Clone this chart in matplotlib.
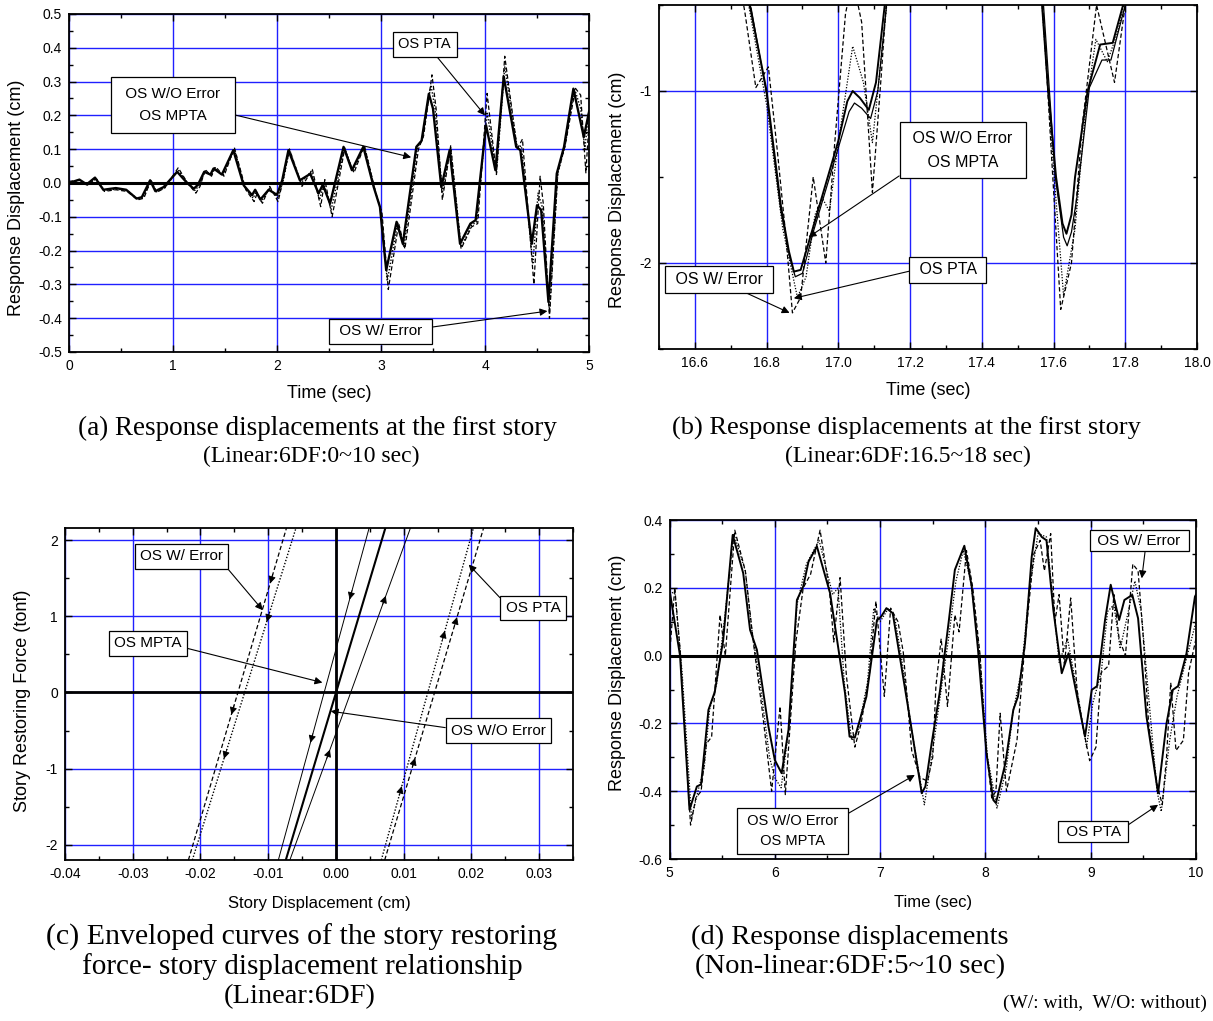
import numpy as np
import matplotlib
matplotlib.use('Agg')
import matplotlib.pyplot as plt
from matplotlib.ticker import MultipleLocator, FormatStrFormatter

plt.rcParams['font.family'] = 'Liberation Sans'
plt.rcParams['axes.unicode_minus'] = False

# ---- (a) linear 6DF, first story, 0-5 sec ----
a_t_wo = [0, 0.1, 0.17, 0.25, 0.33, 0.45, 0.55, 0.65, 0.70, 0.78, 0.83, 0.91, 1.04, 1.13, 1.20, 1.24,
          1.30, 1.36, 1.39, 1.47, 1.58, 1.68, 1.76, 1.79, 1.84, 1.92, 2.0, 2.05, 2.11, 2.22, 2.32, 2.40,
          2.44, 2.51, 2.64, 2.72, 2.83, 2.93, 2.99, 3.05, 3.15, 3.21, 3.34, 3.39, 3.46, 3.50, 3.58, 3.66,
          3.76, 3.86, 3.91, 4.01, 4.10, 4.18, 4.30, 4.34, 4.45, 4.50, 4.54, 4.61, 4.69, 4.76, 4.85, 4.95, 5.0]
a_wo = [0, 0.01, -0.004, 0.016, -0.02, -0.015, -0.02, -0.046, -0.042, 0.008, -0.024, -0.012, 0.033, 0.002,
        -0.017, -0.005, 0.033, 0.025, 0.043, 0.025, 0.097, -0.007, -0.036, -0.02, -0.049, -0.02, -0.035,
        0.008, 0.097, 0.008, 0.027, -0.031, -0.005, -0.061, 0.107, 0.038, 0.107, -0.012, -0.071, -0.258,
        -0.115, -0.18, 0.107, 0.125, 0.264, 0.22, -0.012, 0.097, -0.18, -0.12, -0.11, 0.171, 0.038, 0.315,
        0.107, 0.097, -0.18, -0.066, -0.08, -0.352, 0.028, 0.107, 0.279, 0.136, 0.21]
a_t_w = [0, 0.1, 0.17, 0.26, 0.34, 0.45, 0.56, 0.66, 0.72, 0.79, 0.84, 0.92, 1.05, 1.14, 1.22, 1.26,
         1.31, 1.37, 1.41, 1.49, 1.59, 1.70, 1.78, 1.81, 1.86, 1.93, 2.01, 2.06, 2.12, 2.24, 2.34, 2.42,
         2.46, 2.53, 2.65, 2.74, 2.84, 2.95, 3.01, 3.07, 3.17, 3.23, 3.36, 3.41, 3.49, 3.53, 3.59, 3.67,
         3.77, 3.87, 3.93, 4.02, 4.11, 4.19, 4.31, 4.36, 4.47, 4.53, 4.56, 4.62, 4.70, 4.77, 4.87, 4.92, 4.97, 5.0]
a_w = [0.005, 0.008, -0.005, 0.012, -0.025, -0.02, -0.025, -0.05, -0.045, 0.01, -0.028, -0.015, 0.045, 0.0,
       -0.03, -0.01, 0.04, 0.02, 0.048, 0.02, 0.105, -0.02, -0.055, -0.03, -0.06, -0.01, -0.055, 0.01, 0.10,
       -0.01, 0.04, -0.07, 0.01, -0.10, 0.10, 0.03, 0.11, -0.03, -0.09, -0.315, -0.12, -0.195, 0.10, 0.14,
       0.32, 0.22, -0.05, 0.11, -0.195, -0.13, -0.12, 0.265, 0.025, 0.375, 0.10, 0.13, -0.30, 0.02, -0.06,
       -0.40, 0.03, 0.11, 0.28, 0.26, 0.03, 0.18]
a_t_pta = [0, 0.1, 0.18, 0.26, 0.34, 0.46, 0.56, 0.66, 0.71, 0.79, 0.84, 0.92, 1.05, 1.14, 1.21, 1.25,
           1.31, 1.37, 1.40, 1.48, 1.59, 1.69, 1.77, 1.80, 1.85, 1.93, 2.01, 2.06, 2.12, 2.23, 2.33, 2.41,
           2.45, 2.52, 2.65, 2.73, 2.84, 2.94, 3.00, 3.06, 3.16, 3.22, 3.35, 3.40, 3.48, 3.52, 3.59, 3.67,
           3.77, 3.87, 3.92, 4.02, 4.11, 4.19, 4.31, 4.35, 4.46, 4.51, 4.55, 4.62, 4.70, 4.77, 4.86, 4.92, 4.96, 5.0]
a_pta = [0, 0.008, -0.006, 0.014, -0.022, -0.018, -0.022, -0.048, -0.044, 0.006, -0.026, -0.014, 0.038, 0.0,
         -0.022, -0.008, 0.036, 0.022, 0.045, 0.022, 0.10, -0.012, -0.045, -0.025, -0.055, -0.015, -0.045,
         0.008, 0.10, 0.0, 0.035, -0.05, 0.0, -0.08, 0.105, 0.035, 0.11, -0.02, -0.08, -0.29, -0.118, -0.19,
         0.105, 0.13, 0.29, 0.22, -0.03, 0.105, -0.19, -0.125, -0.115, 0.21, 0.03, 0.345, 0.105, 0.11, -0.24,
         -0.03, -0.07, -0.38, 0.03, 0.11, 0.28, 0.22, 0.10, 0.22]

# ---- (b) linear 6DF, first story, 16.5-18 sec ----
b_t_wo = [16.72, 16.755, 16.80, 16.84, 16.862, 16.876, 16.895, 16.93, 17.00, 17.025, 17.04, 17.06, 17.085,
          17.105, 17.13, 17.15, 17.55, 17.568, 17.585, 17.607, 17.625, 17.636, 17.65, 17.66, 17.695, 17.73,
          17.765, 17.794, 17.82]
b_wo = [-0.3, -0.52, -1.0, -1.67, -1.93, -2.05, -2.04, -1.79, -1.29, -1.06, -1.0, -1.04, -1.11,
        -0.95, -0.49, -0.3, -0.3, -0.5, -1.0, -1.5, -1.77, -1.83, -1.72, -1.5, -1.0, -0.73,
        -0.72, -0.5, -0.3]
b_t_mpta = [16.72, 16.757, 16.80, 16.84, 16.865, 16.88, 16.90, 16.93, 17.00, 17.03, 17.045, 17.065, 17.09,
            17.11, 17.135, 17.15, 17.55, 17.572, 17.605, 17.628, 17.638, 17.65, 17.665, 17.70, 17.735, 17.76,
            17.80, 17.82]
b_mpta = [-0.3, -0.52, -1.02, -1.7, -1.97, -2.08, -2.06, -1.82, -1.33, -1.12, -1.07, -1.1, -1.16,
          -1.0, -0.49, -0.3, -0.3, -0.5, -1.5, -1.85, -1.90, -1.82, -1.62, -0.98, -0.82, -0.82,
          -0.5, -0.3]
b_t_w = [16.72, 16.74, 16.77, 16.805, 16.83, 16.853, 16.872, 16.895, 16.93, 16.965, 16.99, 17.02, 17.04,
         17.065, 17.095, 17.12, 17.135, 17.15, 17.55, 17.57, 17.595, 17.62, 17.65, 17.68, 17.72, 17.77, 17.80, 17.82]
b_w = [-0.3, -0.55, -0.98, -0.86, -1.35, -1.83, -2.29, -2.2, -1.5, -2.0, -1.3, -0.55, -0.35,
       -0.6, -1.59, -0.9, -0.45, -0.3, -0.3, -0.5, -1.4, -2.27, -2.0, -1.2, -0.5, -0.95, -0.5, -0.3]
b_t_pta = [16.72, 16.75, 16.80, 16.845, 16.886, 16.91, 16.935, 16.955, 16.975, 17.00, 17.04, 17.07, 17.095,
           17.125, 17.14, 17.55, 17.568, 17.60, 17.628, 17.66, 17.69, 17.718, 17.75, 17.78, 17.80, 17.82]
b_pta = [-0.3, -0.5, -1.08, -1.8, -2.2, -2.08, -1.72, -1.62, -1.7, -1.3, -0.74, -0.95, -1.3,
         -0.7, -0.4, -0.3, -0.5, -1.45, -2.19, -1.8, -1.1, -0.7, -0.83, -0.65, -0.45, -0.3]

# ---- (c) restoring force - story displacement envelopes ----
c_force_ends = [-2.2, 2.16]
c_wo = [-0.0074, 0.0073]
c_mpta_down = [-0.0085, 0.0049]
c_mpta_up = [-0.0068, 0.0110]
c_w_down = [-0.02178, -0.0073]
c_w_up = [0.0072, 0.0218]
c_pta_down = [-0.0212, -0.0059]
c_pta_up = [0.0067, 0.0203]
# force levels where the loading direction is marked
c_arrow_w_down = [1.43, -0.29]
c_arrow_pta_down = [0.93, -0.87]
c_arrow_w_up = [0.99, -0.86]
c_arrow_pta_up = [0.81, -1.23]
c_arrow_mpta_down = [1.22, -0.66]
c_arrow_mpta_up = [1.27, -0.75]

# ---- (d) non-linear 6DF, 5-10 sec ----
d_t_wo = [5.0, 5.10, 5.19, 5.26, 5.30, 5.37, 5.43, 5.51, 5.60, 5.70, 5.765, 5.83, 5.94, 6.0, 6.065, 6.13,
          6.21, 6.27, 6.32, 6.40, 6.525, 6.667, 6.71, 6.76, 6.87, 6.97, 7.01, 7.06, 7.12, 7.28, 7.395,
          7.43, 7.49, 7.57, 7.65, 7.71, 7.80, 7.87, 7.93, 8.01, 8.075, 8.10, 8.19, 8.265, 8.31, 8.376,
          8.44, 8.478, 8.535, 8.58, 8.645, 8.725, 8.79, 8.87, 8.946, 9.01, 9.06, 9.136, 9.19, 9.27, 9.32,
          9.395, 9.45, 9.53, 9.64, 9.72, 9.78, 9.83, 9.91, 9.99, 10.0]
d_wo = [0.194, 0.0, -0.455, -0.386, -0.38, -0.16, -0.107, 0.046, 0.356, 0.243, 0.076, 0.017, -0.21, -0.308,
        -0.347, -0.219, 0.164, 0.204, 0.277, 0.322, 0.184, -0.111, -0.239, -0.242, -0.121, 0.105, 0.115,
        0.14, 0.125, -0.18, -0.406, -0.386, -0.258, -0.101, 0.096, 0.253, 0.324, 0.204, 0.017, -0.288,
        -0.426, -0.435, -0.317, -0.16, -0.12, 0.037, 0.292, 0.376, 0.35, 0.34, 0.135, -0.052, 0.007, -0.12,
        -0.239, -0.101, -0.09, 0.105, 0.209, 0.105, 0.164, 0.179, 0.11, -0.18, -0.406, -0.2, -0.101,
        -0.09, 0.007, 0.174, 0.18]
d_t_w = [5.00, 5.05, 5.10, 5.20, 5.25, 5.30, 5.35, 5.40, 5.48, 5.53, 5.62, 5.72, 5.80, 5.88, 5.97, 6.05,
         6.10, 6.20, 6.27, 6.34, 6.43, 6.52, 6.56, 6.62, 6.68, 6.76, 6.82, 6.90, 6.96, 7.04, 7.10, 7.17,
         7.22, 7.30, 7.38, 7.45, 7.50, 7.53, 7.58, 7.64, 7.71, 7.75, 7.82, 7.88, 7.95, 8.00, 8.06, 8.10,
         8.14, 8.20, 8.30, 8.38, 8.46, 8.52, 8.56, 8.62, 8.66, 8.70, 8.75, 8.81, 8.87, 8.92, 8.99, 9.05,
         9.10, 9.17, 9.22, 9.27, 9.33, 9.40, 9.45, 9.50, 9.55, 9.63, 9.68, 9.72, 9.76, 9.81, 9.88, 9.93, 10.0]
d_w = [0.00, 0.20, 0.02, -0.50, -0.42, -0.40, -0.26, -0.24, 0.12, 0.00, 0.37, 0.25, 0.03, -0.16, -0.40,
       -0.15, -0.41, 0.04, 0.20, 0.24, 0.37, 0.19, 0.04, 0.23, -0.06, -0.27, -0.20, -0.05, 0.16, -0.12,
       0.14, 0.10, 0.01, -0.28, -0.36, -0.37, -0.30, -0.09, 0.05, -0.15, 0.12, 0.07, 0.31, 0.20, 0.00,
       -0.25, -0.42, -0.40, -0.17, -0.40, -0.25, 0.05, 0.30, 0.34, 0.25, 0.36, 0.10, 0.18, -0.03, 0.17,
       -0.10, -0.20, -0.31, -0.27, -0.05, -0.03, 0.18, 0.05, 0.00, 0.27, 0.25, 0.05, -0.20, -0.38, -0.44,
       -0.30, -0.08, -0.28, -0.25, -0.05, 0.05]
d_t_pta = [5.00, 5.05, 5.12, 5.21, 5.27, 5.33, 5.38, 5.45, 5.52, 5.61, 5.72, 5.78, 5.86, 5.95, 6.00, 6.06,
           6.14, 6.21, 6.30, 6.42, 6.55, 6.60, 6.66, 6.73, 6.79, 6.88, 6.94, 7.00, 7.08, 7.14, 7.20, 7.30,
           7.42, 7.50, 7.58, 7.65, 7.72, 7.79, 7.86, 7.94, 8.02, 8.11, 8.20, 8.26, 8.34, 8.42, 8.50, 8.58,
           8.64, 8.70, 8.78, 8.88, 8.96, 9.02, 9.10, 9.16, 9.22, 9.28, 9.35, 9.42, 9.48, 9.55, 9.63, 9.67,
           9.75, 9.82, 9.90, 10.0]
d_pta = [0.18, 0.19, -0.05, -0.48, -0.40, -0.33, -0.16, -0.08, 0.10, 0.36, 0.25, 0.08, -0.08, -0.30, -0.36,
         -0.39, -0.20, 0.15, 0.27, 0.34, 0.18, 0.20, -0.08, -0.25, -0.22, -0.08, 0.14, 0.10, 0.14, 0.11,
         0.00, -0.22, -0.44, -0.28, -0.10, 0.05, 0.22, 0.31, 0.22, 0.02, -0.30, -0.45, -0.33, -0.17, -0.05,
         0.20, 0.36, 0.35, 0.17, -0.02, 0.05, -0.12, -0.27, -0.14, -0.05, 0.13, 0.15, 0.02, 0.12, 0.22, 0.13,
         -0.12, -0.40, -0.46, -0.25, -0.12, -0.02, 0.10]

BLUE = '#2020ff'
DASH = (0, (3.5, 2))
DOT = (0, (1, 1.3))


def setup(ax, xlim, ylim, xmaj, xmin, ymaj, ymin, xfmt, yfmt, xlabel, ylabel, ylab_pos, xlsize=13, xpad=9):
    ax.set_xlim(xlim)
    ax.set_ylim(ylim)
    ax.xaxis.set_major_locator(MultipleLocator(xmaj))
    ax.xaxis.set_minor_locator(MultipleLocator(xmin))
    ax.yaxis.set_major_locator(MultipleLocator(ymaj))
    ax.yaxis.set_minor_locator(MultipleLocator(ymin))
    ax.xaxis.set_major_formatter(FormatStrFormatter(xfmt))
    ax.yaxis.set_major_formatter(FormatStrFormatter(yfmt))
    ax.tick_params(which='both', direction='in', top=True, right=True, width=1.0, labelsize=10, pad=5)
    ax.tick_params(which='major', length=5)
    ax.tick_params(which='minor', length=3)
    ax.grid(True, which='major', color=BLUE, lw=1.0, zorder=1)
    for s in ax.spines.values():
        s.set_linewidth(1.3)
        s.set_zorder(3)
    ax.set_xlabel(xlabel, fontsize=xlsize, labelpad=xpad)
    ax.set_ylabel(ylabel, fontsize=13)
    ax.yaxis.set_label_coords(*ylab_pos)


def box(ax, text, xy, xytext, rel=(0.5, 0.5), pad=0.35, fs=11, ls=1.6):
    ax.annotate(text, xy=xy, xytext=xytext, ha='center', va='center', fontsize=fs,
                multialignment='center', linespacing=ls, zorder=6,
                bbox=dict(boxstyle='square,pad=%s' % pad, fc='white', ec='black', lw=0.9),
                arrowprops=dict(arrowstyle='-|>', color='black', lw=0.8, mutation_scale=11,
                                shrinkA=0, shrinkB=0, relpos=rel))


fig = plt.figure(figsize=(12.13, 10.21), dpi=100)
W, H = 1213.0, 1021.0


def add_axes(x0, x1, y0, y1):
    return fig.add_axes([x0 / W, 1 - y1 / H, (x1 - x0) / W, (y1 - y0) / H])


# (a)
ax = add_axes(69, 589, 14, 352)
setup(ax, (0, 5), (-0.5, 0.5), 1, 0.5, 0.1, 0.05, '%d', '%.1f', 'Time (sec)', 'Response Displacement (cm)',
      (-0.085, 0.457))
ax.axhline(0, color='k', lw=2.2, zorder=2)
ax.plot(a_t_pta, a_pta, color='k', lw=1.0, ls=DOT)
ax.plot(a_t_w, a_w, color='k', lw=0.9, ls=DASH)
ax.plot(a_t_wo, a_wo, color='k', lw=1.7)
box(ax, ' OS W/O Error \n OS MPTA ', (3.29, 0.076), (1.0, 0.23), rel=(1.0, 0.3), pad=0.65, ls=1.75)
box(ax, 'OS PTA', (4.0, 0.2), (3.42, 0.41), rel=(0.65, 0.0), pad=0.4, fs=10.5)
box(ax, ' OS W/ Error ', (4.6, -0.379), (2.995, -0.439), rel=(1.0, 0.75))

# (b)
ax = add_axes(659, 1197, 5, 349)
setup(ax, (16.5, 18.0), (-2.5, -0.5), 0.2, 0.1, 1, 0.5, '%.1f', '%d', 'Time (sec)', 'Response Displacement (cm)',
      (-0.062, 0.462))
ax.plot(b_t_pta, b_pta, color='k', lw=0.9, ls=DOT)
ax.plot(b_t_w, b_w, color='k', lw=0.9, ls=DASH)
ax.plot(b_t_mpta, b_mpta, color='k', lw=0.9)
ax.plot(b_t_wo, b_wo, color='k', lw=1.4)
box(ax, ' OS W/O Error \n OS MPTA ', (16.917, -1.85), (17.347, -1.344), rel=(0.0, 0.0), pad=0.55, fs=11.5,
    ls=1.75)
box(ax, ' OS PTA ', (16.876, -2.205), (17.305, -2.04), rel=(0.0, 0.5), fs=11.5)
box(ax, ' OS W/ Error ', (16.864, -2.29), (16.667, -2.096), rel=(0.65, 0.0), fs=11.5)

# (c)
ax = add_axes(65, 573, 528, 860)
setup(ax, (-0.04, 0.035), (-2.2, 2.16), 0.01, 0.005, 1, 0.5, '%.2f', '%d',
      'Story Displacement (cm)', 'Story Restoring Force (tonf)', (-0.066, 0.48), xlsize=12, xpad=11)
ax.axhline(0, color='k', lw=2.0, zorder=2)
ax.axvline(0, color='k', lw=2.0, zorder=2)
branches = [
    (c_w_down, DASH, 0.9, c_arrow_w_down, -1),
    (c_w_up, DASH, 0.9, c_arrow_w_up, 1),
    (c_pta_down, DOT, 1.0, c_arrow_pta_down, -1),
    (c_pta_up, DOT, 1.0, c_arrow_pta_up, 1),
    (c_mpta_down, '-', 0.7, c_arrow_mpta_down, -1),
    (c_mpta_up, '-', 0.7, c_arrow_mpta_up, 1),
    (c_wo, '-', 1.5, [], 0),
]
for disp, ls, lw, levels, sign in branches:
    ax.plot(disp, c_force_ends, color='k', ls=ls, lw=lw, zorder=3)
    for f in levels:
        f0 = f - sign * 0.12
        ax.annotate('', xy=(np.interp(f, c_force_ends, disp), f),
                    xytext=(np.interp(f0, c_force_ends, disp), f0),
                    arrowprops=dict(arrowstyle='-|>', color='k', lw=0.6, mutation_scale=11,
                                    shrinkA=0, shrinkB=0))
box(ax, 'OS W/ Error', (-0.0108, 1.08), (-0.0228, 1.79), rel=(1.0, 0.0))
box(ax, 'OS MPTA', (-0.002, 0.13), (-0.0278, 0.645), rel=(1.0, 0.25))
box(ax, 'OS PTA', (0.0196, 1.68), (0.0291, 1.11), rel=(0.0, 0.8))
box(ax, 'OS W/O Error', (-0.00077, -0.246), (0.024, -0.5), rel=(0.0, 0.65))

# (d)
ax = add_axes(669.5, 1196, 520, 859)
setup(ax, (5, 10), (-0.6, 0.4), 1, 0.5, 0.2, 0.1, '%d', '%.1f', 'Time (sec)', 'Response Displacement (cm)',
      (-0.083, 0.55), xlsize=12, xpad=11)
ax.axhline(0, color='k', lw=2.2, zorder=2)
ax.plot(d_t_pta, d_pta, color='k', lw=0.9, ls=DOT)
ax.plot(d_t_w, d_w, color='k', lw=0.9, ls=DASH)
ax.plot(d_t_wo, d_wo, color='k', lw=1.4)
box(ax, ' OS W/O Error \n OS MPTA ', (7.33, -0.352), (6.166, -0.517), rel=(1.0, 0.9), pad=0.4, fs=10.5, ls=1.6)
box(ax, ' OS W/ Error ', (9.485, 0.228), (9.46, 0.339), rel=(0.57, 0.0), pad=0.25, fs=11)
box(ax, ' OS PTA ', (9.64, -0.44), (9.025, -0.519), rel=(1.0, 0.8), pad=0.25, fs=11)

# captions
serif = 'Liberation Serif'
fig.text(317 / W, 1 - 428 / H, '(a) Response displacements at the first story', ha='center', va='center',
         family=serif, fontsize=19.5)
fig.text(311 / W, 1 - 456 / H, '(Linear:6DF:0~10 sec)', ha='center', va='center', family=serif, fontsize=17)
fig.text(906 / W, 1 - 428 / H, '(b) Response displacements at the first story', ha='center', va='center',
         family=serif, fontsize=19)
fig.text(908 / W, 1 - 456 / H, '(Linear:6DF:16.5~18 sec)', ha='center', va='center', family=serif, fontsize=17)
fig.text(302 / W, 1 - 937 / H, '(c) Enveloped curves of the story restoring', ha='center', va='center',
         family=serif, fontsize=21.5)
fig.text(302 / W, 1 - 967 / H, 'force- story displacement relationship', ha='center', va='center',
         family=serif, fontsize=21)
fig.text(300 / W, 1 - 997 / H, '(Linear:6DF)', ha='center', va='center', family=serif, fontsize=20.5)
fig.text(850 / W, 1 - 937 / H, '(d) Response displacements', ha='center', va='center', family=serif, fontsize=20.5)
fig.text(850 / W, 1 - 967 / H, '(Non-linear:6DF:5~10 sec)', ha='center', va='center', family=serif, fontsize=20.5)
fig.text(1207 / W, 1 - 1003 / H, '(W/: with,  W/O: without)', ha='right', va='center', family=serif, fontsize=14)

fig.savefig('out.png', dpi=100)
